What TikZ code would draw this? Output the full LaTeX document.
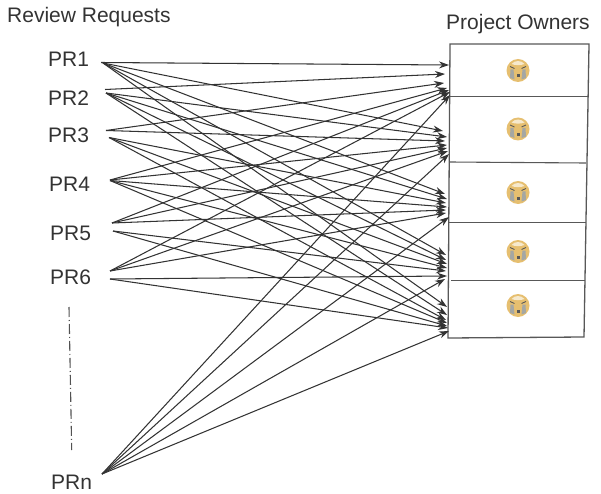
\documentclass[tikz,border=0pt]{standalone}
\usepackage{fontspec}
\setmainfont{Liberation Sans}
\usetikzlibrary{arrows.meta}
\definecolor{ink}{HTML}{333333}
\definecolor{boxline}{HTML}{585858}
\definecolor{gold}{HTML}{E6BF70}
\definecolor{tear}{HTML}{A5A7A3}
\tikzset{
  prlabel/.style={font=\fontsize{21}{24}\selectfont,text=ink,anchor=base west,inner sep=0pt},
  titlelabel/.style={prlabel},
  link/.style={draw=ink,line width=1.05pt,-{Stealth[length=10pt,width=7pt]}},
  boxrule/.style={draw=boxline,line width=1.3pt},
  sep/.style={draw=boxline,line width=1.1pt},
  crying/.pic={
    \fill[gold] (0,0) circle (11.5);
    \fill[white!65!gold] (-6.5,-6.5) .. controls (-3,-10.5) and (3,-10.5) .. (6.5,-6.5) .. controls (3,-5) and (-3,-5) .. (-6.5,-6.5) -- cycle;
    \fill[tear] (-7.5,-1) -- (-4.5,-1) -- (-3.5,9) -- (-8,7.5) -- cycle;
    \fill[tear] (7.5,-1) -- (4.5,-1) -- (3.5,9) -- (8,7.5) -- cycle;
    \draw[boxline,line width=0.9pt] (-8,-4) -- (-3.5,-2) (8,-4) -- (3.5,-2);
    \fill[boxline] (-1.5,4) rectangle (1.5,7);
  }
}
\begin{document}
\begin{tikzpicture}[x=1pt,y=-1pt]
\useasboundingbox (0,0) rectangle (601,494);
% titles
\node[titlelabel] (rr) at (7,22.5) {Review Requests};
\node[titlelabel] (po) at (446,30) {Project Owners};
% requests
\node[prlabel] (PR1) at (48,66.5) {PR1};
\node[prlabel] (PR2) at (48,105.5) {PR2};
\node[prlabel] (PR3) at (48,143) {PR3};
\node[prlabel] (PR4) at (49,191) {PR4};
\node[prlabel] (PR5) at (50,240) {PR5};
\node[prlabel] (PR6) at (50,284) {PR6};
\node[prlabel] (PRn) at (51,489) {PRn};
% owners table
\path[boxrule] (450,44) -- (589,44) -- (584,337) -- (448,338) -- cycle;
\path[sep] (450,96.5) -- (588,96.5);
\path[sep] (449,162) -- (586,163);
\path[sep] (449,222.5) -- (586,222.5);
\path[sep] (451,280.4) -- (585,280.4);
\foreach \i/\y in {1/70.5,2/129,3/192.5,4/251.5,5/305.5}
  \pic at (518,\y) {crying};
% ellipsis line
\coordinate (dotsa) at (69,307);
\coordinate (dotsb) at (71.7,450);
\draw[draw=ink!85,line width=1.1pt,dash pattern=on 10pt off 3pt on 1pt off 3pt] (dotsa) -- (dotsb);
% connector ends at the requests
\coordinate (s1a) at (101,62.5);
\coordinate (s1b) at (103,63);
\coordinate (s2a) at (105,89.5);
\coordinate (s2b) at (106,93);
\coordinate (s3a) at (106,130.5);
\coordinate (s3b) at (109,137.5);
\coordinate (s4a) at (110,180);
\coordinate (s4b) at (110,180.5);
\coordinate (s5a) at (112,223);
\coordinate (s5b) at (113,231);
\coordinate (s6a) at (110,271);
\coordinate (s6b) at (110,279);
\coordinate (s7a) at (102,474);
% connector ends at the owners
\foreach \n/\xx/\yy in {
  t11/449/65, t12/445/74, t13/444/83, t14/447/88, t15/449/90, t16/450/92, t17/450/95,
  t21/443/131, t22/447/137, t23/445/141, t24/447/145, t25/447/148, t26/448/151, t27/449/154,
  t31/445/194, t32/447/199, t33/446/203, t34/447/207, t35/446/210, t36/446/213, t37/449/217,
  t41/446/255, t42/446/260, t43/447/264, t44/447/268, t45/446/271, t46/447/276, t47/445/279,
  t51/447/307, t52/447/315, t53/446/320, t54/447/323, t55/447/326, t56/448/328, t57/449/331}
  \coordinate (\n) at (\xx,\yy);
% connectors
\foreach \s/\t in {
  s1a/t11, s1b/t21, s1b/t31, s1b/t41, s1b/t51,
  s2a/t12, s2b/t22, s2b/t32, s2b/t42, s2b/t52,
  s3a/t13, s3a/t23, s3b/t33, s3b/t43, s3b/t53,
  s4a/t14, s4a/t24, s4b/t34, s4b/t44, s4b/t54,
  s5a/t15, s5a/t25, s5a/t35, s5b/t45, s5b/t55,
  s6a/t16, s6a/t26, s6a/t36, s6b/t46, s6b/t56,
  s7a/t17, s7a/t27, s7a/t37, s7a/t47, s7a/t57}
  \draw[link] (\s) -- (\t);
\end{tikzpicture}
\end{document}
